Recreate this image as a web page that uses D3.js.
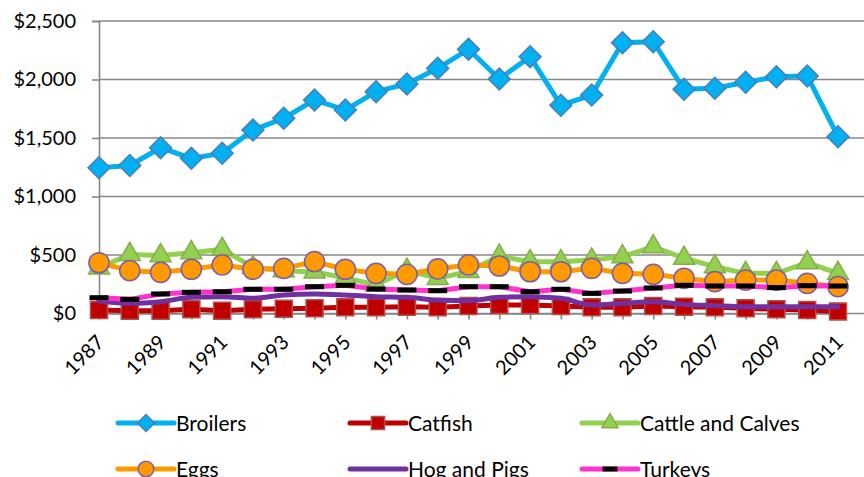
<!DOCTYPE html>
<html><head><meta charset="utf-8">
<script src="https://cdn.jsdelivr.net/npm/d3@7"></script>
<style>
body{margin:0;background:#fff}
text{font-family:Lato,'Liberation Sans',sans-serif;fill:#000}
</style>
</head><body><svg id="c" width="864" height="477"></svg>
<script>
const years = [1987,1988,1989,1990,1991,1992,1993,1994,1995,1996,1997,1998,1999,2000,2001,2002,2003,2004,2005,2006,2007,2008,2009,2010,2011];
const broilers = [1245,1265,1417,1326,1369,1568,1668,1825,1739,1896,1962,2096,2258,2004,2195,1780,1867,2315,2323,1916,1925,1976,2024,2030,1511];
const catfish = [30,24,24,36,24,36,41,44,53,53,58,53,64,73,73,64,53,53,64,58,53,44,36,30,18];
const cattle = [390,505,495,520,549,395,365,355,305,245,370,300,360,490,443,443,457,486,571,472,400,343,343,434,343];
const eggs = [434,366,352,378,415,378,386,443,378,343,335,382,415,406,357,357,386,343,335,301,272,286,286,258,229];
const hogs = [107,87,101,138,144,130,158,167,158,144,138,115,110,138,144,130,73,87,101,78,67,58,58,58,58];
const turkeys = [135,121,167,181,186,207,207,229,241,209,201,195,229,229,186,207,172,192,218,241,235,235,221,238,235];
const yTicks = [0,500,1000,1500,2000,2500];

const seriesNames = ["Broilers","Catfish","Cattle and Calves","Eggs","Hog and Pigs","Turkeys"];
const seriesData = [broilers,catfish,cattle,eggs,hogs,turkeys];
const styles = [
  {line:"#00B0F0", fill:"#00B0F0", stroke:"#4A7EBB", marker:"diamond", curve:d3.curveLinear},
  {line:"#C00000", fill:"#C00000", stroke:"#B0504D", marker:"square", curve:d3.curveLinear},
  {line:"#92D050", fill:"#92D050", stroke:"#86AC4C", marker:"triangle", curve:d3.curveLinear},
  {line:"#FF9900", fill:"#FF9900", stroke:"#7B5EA7", marker:"circle", curve:d3.curveLinear},
  {line:"#7030A0", marker:"none", curve:d3.curveMonotoneX},
  {line:"#FF33CC", fill:"#000", stroke:"none", marker:"dash", curve:d3.curveLinear}
];

const svg = d3.select("#c");
const x = d3.scalePoint().domain(years).range([99, 838]);
const y = d3.scaleLinear().domain([0, 2500]).range([313.5, 21]);
const gridColor = "#878787";

// gridlines
svg.append("g").selectAll("line").data(yTicks).join("line")
  .attr("x1", 99).attr("x2", 864)
  .attr("y1", d => y(d)).attr("y2", d => y(d))
  .attr("stroke", gridColor).attr("stroke-width", 1.6);

// y axis
const ya = svg.append("g").attr("transform","translate(99,0)")
  .call(d3.axisLeft(y).tickValues(yTicks).tickSize(7).tickPadding(16).tickFormat(d => "$" + d3.format(",")(d)));
ya.select(".domain").attr("stroke", gridColor).attr("stroke-width",1.6);
ya.selectAll(".tick line").attr("stroke", gridColor).attr("stroke-width",1.6);
ya.selectAll("text").attr("font-size", 20).attr("font-family","Lato,'Liberation Sans',sans-serif");

// x axis
const xa = svg.append("g").attr("transform","translate(0,313.5)")
  .call(d3.axisBottom(x).tickSize(6).tickSizeOuter(0).tickFormat(d => d % 2 === 1 ? d : ""));
xa.select(".domain").attr("stroke", gridColor).attr("stroke-width",1.6);
xa.selectAll(".tick line").attr("stroke", gridColor).attr("stroke-width",1.6);
xa.selectAll("text")
  .attr("font-size", 20).attr("font-family","Lato,'Liberation Sans',sans-serif")
  .attr("text-anchor","end")
  .attr("y", 0).attr("dy", 0)
  .attr("transform","translate(6,30) rotate(-45)");

function markerPath(type, big) {
  const k = big ? 1 : 0.6;
  if (type === "diamond") return d3.symbol(d3.symbolSquare, 240*k)();
  if (type === "square") return d3.symbol(d3.symbolSquare, 290*k)();
  if (type === "triangle") return d3.symbol(d3.symbolTriangle, 190*k)();
  if (type === "circle") return d3.symbol(d3.symbolCircle, 320*k)();
  return null;
}

function drawMarker(g, st, big) {
  if (st.marker === "none") return;
  if (st.marker === "dash") {
    const w = big ? 19 : 15, h = 5;
    g.append("rect").attr("x", -w/2).attr("y", -h/2).attr("width", w).attr("height", h).attr("fill", "#000");
    return;
  }
  g.append("path").attr("d", markerPath(st.marker, big))
    .attr("transform", st.marker === "diamond" ? "rotate(45)" : null)
    .attr("fill", st.fill).attr("stroke", st.stroke).attr("stroke-width", 1.5);
}

seriesData.forEach((vals, i) => {
  const st = styles[i];
  const pts = years.map((yr, j) => [x(yr), y(vals[j])]);
  const g = svg.append("g");
  g.append("path").attr("d", d3.line().curve(st.curve)(pts))
    .attr("fill","none").attr("stroke", st.line).attr("stroke-width", 5)
    .attr("stroke-linejoin","round").attr("stroke-linecap","round");
  pts.forEach(p => {
    const m = g.append("g").attr("transform", `translate(${p[0]},${p[1]})`);
    drawMarker(m, st, true);
  });
});

// legend
const legX = [118, 350, 582];
const legY = [423, 469];
seriesNames.forEach((name, i) => {
  const st = styles[i];
  const lx = legX[i % 3], ly = legY[Math.floor(i / 3)];
  const g = svg.append("g").attr("transform", `translate(${lx},${ly})`);
  g.append("line").attr("x1", 0).attr("x2", 56).attr("y1", 0).attr("y2", 0)
    .attr("stroke", st.line).attr("stroke-width", 5).attr("stroke-linecap","round");
  drawMarker(g.append("g").attr("transform","translate(28,0)"), st, false);
  g.append("text").attr("x", 58).attr("y", 0).attr("dy","0.36em").attr("font-size", 21).text(name);
});
</script>
</body></html>
